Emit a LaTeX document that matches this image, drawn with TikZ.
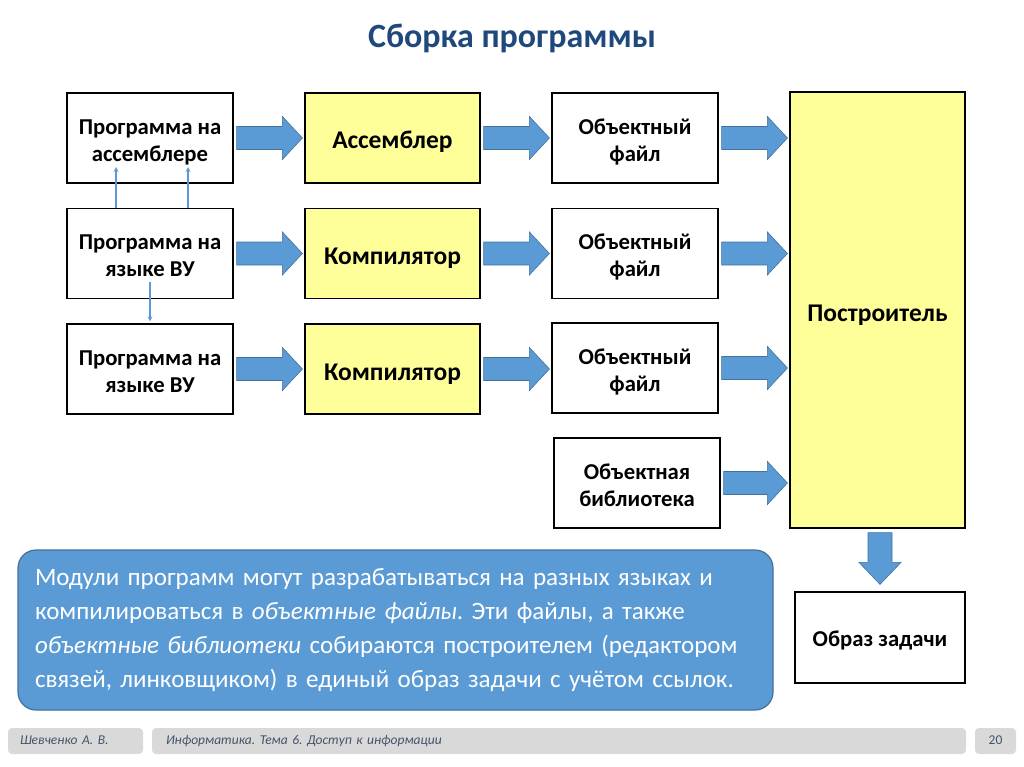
\documentclass[tikz,border=0pt]{standalone}
\usepackage{fontspec}
\setmainfont{Carlito}
\usetikzlibrary{calc}
\frenchspacing

\definecolor{titleblue}{RGB}{31,73,125}
\definecolor{boxyellow}{RGB}{255,255,153}
\definecolor{arrowfill}{RGB}{91,155,213}
\definecolor{arrowedge}{RGB}{65,113,156}
\definecolor{footgray}{RGB}{217,217,217}
\definecolor{foottext}{RGB}{68,84,106}

\tikzset{
  box/.style={draw=black, line width=1.2pt, fill=white, minimum width=166pt, minimum height=90pt,
    align=center, font=\fontsize{22.7}{27}\selectfont\bfseries, text height=53.5pt, text depth=7pt},
  ybox/.style={box, fill=boxyellow, minimum width=175pt, font=\fontsize{25.5}{27}\selectfont\bfseries,
    text height=29pt, text depth=7pt},
  fatarrow/.style={fill=arrowfill, draw=arrowedge, line width=0.6pt},
  linkarrow/.style={draw=arrowfill, line width=1.2pt, -stealth},
  foot/.style={fill=footgray, rounded corners=4pt, inner sep=0pt, minimum height=26pt,
    font=\fontsize{13.5}{14}\selectfont\itshape, text=foottext, text height=10pt, text depth=3pt}
}

% thick blue arrow between two nodes (left to right)
\newcommand{\fatarrow}[2]{%
  \path[fatarrow] let \p1=(#1), \p2=(#2) in
    (\x1+3pt,\y1+11.5pt) -- (\x2-22pt,\y1+11.5pt) -- (\x2-22pt,\y1+21.5pt) -- (\x2-2pt,\y1)
    -- (\x2-22pt,\y1-21.5pt) -- (\x2-22pt,\y1-11.5pt) -- (\x1+3pt,\y1-11.5pt) -- cycle;}

\begin{document}
\begin{tikzpicture}[x=1pt, y=-1pt]
  \useasboundingbox[fill=white] (0,0) rectangle (1024,767);

  \node[font=\fontsize{34}{38}\selectfont\bfseries, text=titleblue] (title) at (512,38) {Сборка программы};

  % sources
  \node[box] (src1) at (150,138) {Программа на\\ассемблере};
  \node[box] (src2) at (150,253.5) {Программа на\\языке ВУ};
  \node[box] (src3) at (150,369) {Программа на\\языке ВУ};

  % translators
  \node[ybox] (asm) at (392.5,138) {Ассемблер};
  \node[ybox] (comp1) at (392.5,253.5) {Компилятор};
  \node[ybox] (comp2) at (392.5,369) {Компилятор};

  % object files
  \node[box] (obj1) at (635,138) {Объектный\\файл};
  \node[box] (obj2) at (635,253.5) {Объектный\\файл};
  \node[box] (obj3) at (635,368) {Объектный\\файл};
  \node[box] (lib) at (637,483) {Объектная\\библиотека};

  \node[ybox, minimum height=436pt] (linker) at (877.5,310) {Построитель};
  \node[box, minimum width=170pt, minimum height=91pt, text height=24pt] (image) at (880,637.5) {Образ задачи};

  \fatarrow{src1.east}{asm.west}
  \fatarrow{src2.east}{comp1.west}
  \fatarrow{src3.east}{comp2.west}
  \fatarrow{asm.east}{obj1.west}
  \fatarrow{comp1.east}{obj2.west}
  \fatarrow{comp2.east}{obj3.west}
  \fatarrow{obj1.east}{obj1.east -| linker.west}
  \fatarrow{obj2.east}{obj2.east -| linker.west}
  \fatarrow{obj3.east}{obj3.east -| linker.west}
  \fatarrow{lib.east}{lib.east -| linker.west}

  % down arrow to the image
  \path[fatarrow] let \p1=(linker.south), \p2=(image.north) in
    (\x2-12pt,\y1-4pt) -- (\x2-12pt,\y2+29pt) -- (\x2-21pt,\y2+29pt) -- (\x2,\y2+7pt)
    -- (\x2+21pt,\y2+29pt) -- (\x2+12pt,\y2+29pt) -- (\x2+12pt,\y1-4pt) -- cycle;

  % links between sources
  \draw[linkarrow] ([xshift=-34pt]src2.north) -- ([xshift=-34pt,yshift=-29pt]src1.center);
  \draw[linkarrow] ([xshift=38pt]src2.north) -- ([xshift=38pt,yshift=-29pt]src1.center);
  \draw[linkarrow] ([yshift=-28pt]src2.center) -- ([yshift=2pt]src3.north);

  % note
  \node[fill=arrowfill, draw=arrowedge, line width=1.2pt, rounded corners=18pt,
    minimum width=755pt, minimum height=160pt, text=white, align=left, text width=721pt,
    font=\fontsize{25}{34}\selectfont] (note) at (395.5,630)
    {Модули программ могут разрабатываться на разных языках и\\
     компилироваться в \textit{объектные файлы}. Эти файлы, а также\\
     \textit{объектные библиотеки} собираются построителем (редактором\\
     связей, линковщиком) в единый образ задачи с учётом ссылок.};

  % footer
  \node[foot, minimum width=135pt, text width=111pt, align=left] (author) at (75.5,741) {Шевченко А. В.};
  \node[foot, minimum width=814pt, text width=786pt, align=left] (topic) at (559,741) {Информатика. Тема 6. Доступ к информации};
  \node[foot, minimum width=41pt] (page) at (995.5,741) {\upshape 20};
\end{tikzpicture}
\end{document}
